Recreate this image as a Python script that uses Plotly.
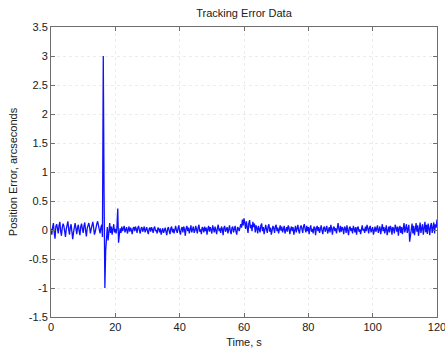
import numpy as np
import plotly.graph_objects as go

dt = 0.25  # sample spacing, s

error_pre = [0.02,-0.08,0.05,0.12,-0.04,-0.15,0.06,0.10,0.03,-0.06,0.08,0.14,-0.02,-0.10,0.04,0.11,0.07,-0.05,-0.12,0.02,
             0.09,0.15,0.01,-0.08,0.05,0.10,-0.03,-0.16,-0.04,0.06,0.12,0.03,-0.07,0.04,0.09,-0.02,-0.09,0.06,0.11,0.02,
             -0.05,0.07,0.13,-0.01,-0.11,0.03,0.08,0.12,0.05,-0.06,0.02,0.10,0.14,0.04,-0.08,-0.03,0.06,0.11,0.15,0.08,
             0.02,-0.06,0.04,0.09]
error_spike = [-0.12,3.0,0.6,-1.0,-0.35,-0.12,0.05,-0.18,0.08,0.12,-0.05,0.06,-0.08,0.03,0.10,-0.04,0.02,-0.06,0.05,0.37,-0.22,-0.08]
error_mid = [0.03,-0.05,0.06,-0.02,0.04,0.07,-0.04,0.01,0.05,-0.06,0.02,0.06,-0.03,0.04,0.00,
             -0.07,0.03,0.05,-0.02,0.06,0.02,-0.05,0.04,0.07,-0.01,-0.06,0.03,0.05,-0.03,0.02,
             0.06,-0.04,0.01,0.05,-0.02,-0.07,0.02,0.04,-0.03,0.05,0.01,-0.05,0.03,0.06,-0.02,
             0.00,-0.06,0.04,0.02,-0.04,0.03,-0.08,-0.02,0.03,-0.05,0.01,0.04,-0.03,-0.09,0.02,
             0.05,-0.02,-0.07,0.03,0.06,-0.04,0.02,-0.06,0.04,0.07,-0.01,-0.05,0.03,0.08,-0.03,
             -0.08,0.02,0.05,-0.04,0.06,0.01,-0.10,0.03,0.07,-0.02,0.04,-0.06,0.02,0.08,-0.04,
             0.03,0.06,-0.05,-0.01,0.07,0.02,-0.06,0.04,0.09,-0.03,0.01,-0.07,0.05,0.03,-0.04,
             0.06,-0.02,0.04,-0.08,0.02,0.07,-0.03,0.05,0.00,-0.06,0.08,0.03,-0.04,0.06,-0.01,
             -0.07,0.04,0.09,-0.02,0.03,-0.05,0.06,0.02,-0.09,0.04,0.07,-0.03,0.01,0.05,-0.06,
             0.03,0.08,-0.02,-0.07,0.04,0.06,-0.04,0.02,0.07,-0.03,-0.08,0.05,0.03,-0.02,0.06]
error_bump = [0.10,0.04,0.18,0.08,0.20,0.12,0.02,0.15,0.06,-0.05,0.12,0.17,0.03,0.09,-0.02,0.14,0.05,0.11,-0.04,0.08]
error_late = [0.03,-0.06,0.07,0.02,-0.04,0.08,0.11,-0.02,0.05,-0.07,0.04,0.09,0.01,-0.05,0.06,
              0.10,-0.03,0.04,-0.08,0.02,0.07,0.03,-0.05,0.06,0.09,-0.02,0.04,-0.06,0.05,0.08,
              -0.01,0.06,-0.04,0.03,0.07,-0.06,0.02,0.05,-0.03,0.08,0.04,-0.07,0.01,0.06,-0.02,
              0.05,-0.08,0.03,0.07,-0.04,0.02,0.09,-0.01,-0.06,0.04,0.08,0.02,-0.05,0.06,0.10,
              0.01,-0.04,0.07,-0.02,0.05,-0.07,0.03,0.08,-0.03,0.02,-0.06,0.06,0.04,-0.09,0.03,
              0.07,-0.02,0.05,-0.05,0.02,0.08,-0.01,-0.07,0.04,0.06,-0.03,0.01,0.07,-0.06,0.03,
              0.05,-0.04,0.09,0.02,-0.08,0.04,0.06,-0.02,0.03,-0.06,0.08,0.12,0.01,-0.04,0.07,
              -0.03,0.05,0.02,-0.07,0.06,0.03,-0.05,0.08,0.01,-0.09,0.04,0.06,-0.02,0.03,-0.06,
              0.07,0.02,-0.04,0.05,-0.08,0.03,0.06,-0.03,0.01,-0.07,0.04,0.08,-0.01,0.02,-0.05,
              0.06,-0.02,0.09,0.03,-0.06,0.04,0.07,-0.04,0.02,0.05,-0.08,0.01,0.06,-0.03,0.04,
              0.08,-0.05,0.02,0.06,-0.07,0.03,0.10,-0.02,0.05,-0.06,0.04,0.08,-0.09,0.02,0.06,
              -0.04,0.07,0.03,-0.08,0.05,0.02,-0.06,0.09,0.04,-0.03,0.06,-0.10,0.03,0.07,-0.05,
              0.05,-0.07,0.08,0.12,-0.04,0.06,0.10,-0.05,0.03,0.09,-0.20,-0.08,0.05,0.11,-0.06,
              0.07,-0.09,0.04,0.12,-0.03,0.08,-0.10,0.06,0.13,-0.05,0.02,0.10,-0.08,0.05,0.14,
              -0.04,0.09,-0.07,0.11,0.03,-0.09,0.07,0.12,-0.05,0.06,0.13,-0.06,0.10,0.04,0.18]

error = error_pre + error_spike + error_mid + error_bump + error_late
time = np.arange(len(error)) * dt

x_ticks = [0, 20, 40, 60, 80, 100, 120]
y_ticks = [-1.5, -1, -0.5, 0, 0.5, 1, 1.5, 2, 2.5, 3, 3.5]
y_tick_text = ["-1.5", "-1", "-0.5", "0", "0.5", "1", "1.5", "2", "2.5", "3", "3.5"]

fig = go.Figure(go.Scatter(x=time, y=error, mode="lines",
                           line=dict(color="#1010ff", width=1.3)))

font = "Liberation Sans, Arial, sans-serif"
axis_common = dict(showline=True, linecolor="#6e6e6e", linewidth=1, mirror="ticks",
                   ticks="inside", ticklen=4, tickcolor="#6e6e6e",
                   showgrid=True, gridcolor="#ececec", griddash="dot", gridwidth=1,
                   zeroline=False, ticklabeloverflow="allow", automargin=False,
                   tickfont=dict(family=font, size=11, color="#202020"))

fig.update_layout(
    width=445, height=349,
    margin=dict(l=51, r=8, t=27, b=32),
    paper_bgcolor="white", plot_bgcolor="white",
    showlegend=False,
    title=dict(text="Tracking Error Data", xref="paper", x=0.5, xanchor="center",
               yref="container", y=0.962, yanchor="middle",
               font=dict(family=font, size=11, color="#202020")),
    xaxis=dict(range=[0, 120], tickvals=x_ticks,
               title=dict(text="Time, s", standoff=6, font=dict(family=font, size=11, color="#202020")),
               **axis_common),
    yaxis=dict(range=[-1.5, 3.5], tickvals=y_ticks, ticktext=y_tick_text,
               title=dict(text="Position Error, arcseconds", standoff=8, font=dict(family=font, size=11, color="#202020")),
               **axis_common),
)

fig.write_html("out.html")
